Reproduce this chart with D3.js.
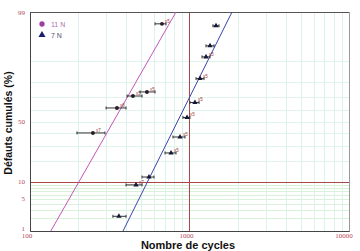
<!DOCTYPE html>
<html>
<head>
<meta charset="utf-8">
<script src="https://cdnjs.cloudflare.com/ajax/libs/d3/7.8.5/d3.min.js"></script>
<style>
  body { margin: 0; background: #fff; }
  svg { display: block; }
</style>
</head>
<body>
<div id="chart"></div>
<script>
// data: cycles (centre, low, high) and cumulated defects (%)
var cycles11 = [248, 351, 442, 541, 672]
var low11 = [197, 300, 406, 490, 608]
var high11 = [295, 400, 504, 608, 712]
var pct11 = [40.4, 61.3, 70.6, 73.5, 98.1]
var tags11 = ["x7", "x8", "x5", "x5", "x5"]

var cycles7 = [361, 462, 557, 766, 872, 965, 1082, 1164, 1269, 1345, 1466]
var low7 = [331, 400, 504, 702, 788, 910, 1007, 1099, 1198, 1269, 1403]
var high7 = [400, 504, 599, 823, 937, 1007, 1148, 1233, 1344, 1425, 1531]
var pct7 = [2.2, 8.9, 11.9, 25.2, 37.1, 53.4, 65.7, 81.9, 91.5, 94.6, 97.9]
var tags7 = ["", "x7", "", "x5", "x5", "x5", "x5", "x5", "x5", "", ""]

// fitted lines: cycles at 1 % and 99 %
var fit11 = [135, 823]
var fit7 = [383, 1847]
var fitPct = [1, 99]

var yTicks = [1, 5, 10, 50, 99]
var xTicks = [100, 1000, 10000]
var yGrid = [2, 3, 4, 5, 6, 7, 8, 9, 20, 30, 40, 50, 60, 70, 80, 90]
var xGrid = [200, 300, 400, 500, 600, 700, 800, 900, 2000, 3000, 4000, 5000, 6000, 7000, 8000, 9000]

var W = 360, H = 251
var m = {left: 30, top: 12, right: 11, bottom: 20}

// inverse normal cdf (Acklam)
function probit(p) {
  var a = [-39.6968302866538, 220.946098424521, -275.928510446969, 138.357751867269, -30.6647980661472, 2.50662827745924]
  var b = [-54.4760987982241, 161.585836858041, -155.698979859887, 66.8013118877197, -13.2806815528857]
  var c = [-0.00778489400243029, -0.322396458041136, -2.40075827716184, -2.54973253934373, 4.37466414146497, 2.93816398269878]
  var d = [0.00778469570904146, 0.32246712907004, 2.445134137143, 3.75440866190742]
  var q, r
  if (p < 0.02425) {
    q = Math.sqrt(-2 * Math.log(p))
    return (((((c[0]*q+c[1])*q+c[2])*q+c[3])*q+c[4])*q+c[5]) / ((((d[0]*q+d[1])*q+d[2])*q+d[3])*q+1)
  }
  if (p > 1 - 0.02425) {
    q = Math.sqrt(-2 * Math.log(1 - p))
    return -(((((c[0]*q+c[1])*q+c[2])*q+c[3])*q+c[4])*q+c[5]) / ((((d[0]*q+d[1])*q+d[2])*q+d[3])*q+1)
  }
  q = p - 0.5; r = q * q
  return (((((a[0]*r+a[1])*r+a[2])*r+a[3])*r+a[4])*r+a[5])*q / (((((b[0]*r+b[1])*r+b[2])*r+b[3])*r+b[4])*r+1)
}

var svg = d3.select("#chart").append("svg").attr("width", W).attr("height", H)

var x = d3.scaleLog().domain([100, 10000]).range([m.left, W - m.right])
var z = d3.scaleLinear().domain([probit(0.01), probit(0.99)]).range([H - m.bottom, m.top])
var y = function(p) { return z(probit(p / 100)) }

var plot = svg.append("g")

// grid
plot.selectAll(".hg").data(yGrid).enter().append("line")
  .attr("x1", m.left).attr("x2", W - m.right)
  .attr("y1", function(d) { return Math.round(y(d)) + 0.5 })
  .attr("y2", function(d) { return Math.round(y(d)) + 0.5 })
  .attr("stroke", function(d) { return d < 10 ? "#d9f1d9" : "#e0f4ea" })
plot.selectAll(".vg").data(xGrid).enter().append("line")
  .attr("y1", m.top).attr("y2", H - m.bottom)
  .attr("x1", function(d) { return Math.round(x(d)) + 0.5 })
  .attr("x2", function(d) { return Math.round(x(d)) + 0.5 })
  .attr("stroke", "#dbf2ee")

// red reference lines
plot.append("line").attr("x1", m.left).attr("x2", W - m.right)
  .attr("y1", Math.round(y(10)) + 0.5).attr("y2", Math.round(y(10)) + 0.5)
  .attr("stroke", "#a84848")
plot.append("line").attr("y1", m.top).attr("y2", H - m.bottom)
  .attr("x1", Math.round(x(1000)) + 0.5).attr("x2", Math.round(x(1000)) + 0.5)
  .attr("stroke", "#a84848")

// frame
svg.append("rect").attr("x", m.left + 0.5).attr("y", m.top + 0.5)
  .attr("width", W - m.left - m.right).attr("height", H - m.top - m.bottom)
  .attr("fill", "none").attr("stroke", "#999")
svg.append("path")
  .attr("d", "M" + (m.left + 0.5) + "," + (m.top + 0.5) + "V" + (H - m.bottom + 0.5) + "H" + (W - m.right + 0.5))
  .attr("fill", "none").attr("stroke", "#444")
svg.append("line").attr("x1", m.left).attr("x2", W - m.right)
  .attr("y1", m.top + 0.5).attr("y2", m.top + 0.5).attr("stroke", "#555")

// fitted lines
var clip = svg.append("clipPath").attr("id", "clip").append("rect")
  .attr("x", m.left).attr("y", m.top).attr("width", W - m.left - m.right).attr("height", H - m.top - m.bottom)
var line = d3.line().x(function(d) { return x(d[0]) }).y(function(d) { return y(d[1]) })
svg.append("path").datum(d3.zip(fit11, fitPct)).attr("d", line)
  .attr("stroke", "#c455b8").attr("fill", "none").attr("clip-path", "url(#clip)")
svg.append("path").datum(d3.zip(fit7, fitPct)).attr("d", line)
  .attr("stroke", "#3a44a8").attr("fill", "none").attr("clip-path", "url(#clip)")

// series with error bars
function drawSeries(cyc, lo, hi, pct, tags, shape, col) {
  var g = svg.append("g")
  var rows = cyc.map(function(c, i) { return {c: c, lo: lo[i], hi: hi[i], p: pct[i], t: tags[i]} })
  var e = g.selectAll("g").data(rows).enter().append("g")
  e.append("line")
    .attr("x1", function(d) { return x(d.lo) }).attr("x2", function(d) { return x(d.hi) })
    .attr("y1", function(d) { return y(d.p) }).attr("y2", function(d) { return y(d.p) })
    .attr("stroke", "#333")
  e.append("line")
    .attr("x1", function(d) { return x(d.lo) }).attr("x2", function(d) { return x(d.lo) })
    .attr("y1", function(d) { return y(d.p) - 1.5 }).attr("y2", function(d) { return y(d.p) + 1.5 })
    .attr("stroke", "#333")
  e.append("line")
    .attr("x1", function(d) { return x(d.hi) }).attr("x2", function(d) { return x(d.hi) })
    .attr("y1", function(d) { return y(d.p) - 1.5 }).attr("y2", function(d) { return y(d.p) + 1.5 })
    .attr("stroke", "#333")
  e.append("path")
    .attr("d", d3.symbol().type(shape).size(12))
    .attr("transform", function(d) { return "translate(" + x(d.c) + "," + y(d.p) + ")" })
    .attr("fill", col)
  e.append("text")
    .attr("x", function(d) { return x(d.c) + 3 }).attr("y", function(d) { return y(d.p) - 1 })
    .attr("font-family", "Liberation Sans, Arial, sans-serif").attr("font-size", 4.5)
    .attr("fill", "#9a3a3a")
    .text(function(d) { return d.t })
}
drawSeries(cycles11, low11, high11, pct11, tags11, d3.symbolCircle, "#2a1a2a")
drawSeries(cycles7, low7, high7, pct7, tags7, d3.symbolTriangle, "#141838")

// tick labels
svg.selectAll(".yt").data(yTicks).enter().append("text")
  .attr("x", 25).attr("y", function(d) { return d === 1 ? y(d) : y(d) + 2.5 })
  .attr("text-anchor", "end")
  .attr("font-family", "Liberation Serif, serif").attr("font-size", 7)
  .attr("fill", "#b5485a")
  .text(function(d) { return d })
svg.selectAll(".xt").data(xTicks).enter().append("text")
  .attr("x", function(d) { return d === 10000 ? x(d) - 5 : x(d) - 3 })
  .attr("y", H - m.bottom + 7)
  .attr("text-anchor", "middle")
  .attr("font-family", "Liberation Serif, serif").attr("font-size", 7)
  .attr("fill", "#b5485a")
  .text(function(d) { return d })

// axis titles
svg.append("text")
  .attr("x", 188).attr("y", 248.5)
  .attr("text-anchor", "middle")
  .attr("font-family", "Liberation Sans, Arial, sans-serif").attr("font-size", 11).attr("font-weight", "bold")
  .attr("fill", "#111")
  .text("Nombre de cycles")
svg.append("text")
  .attr("transform", "translate(12,123) rotate(-90)")
  .attr("text-anchor", "middle")
  .attr("font-family", "Liberation Sans, Arial, sans-serif").attr("font-size", 10.5).attr("font-weight", "bold")
  .attr("fill", "#111")
  .text("Défauts cumulés (%)")

// legend
var legend = [
  {name: "11 N", shape: d3.symbolCircle, col: "#a23ca2", txt: "#b070b0"},
  {name: "7 N", shape: d3.symbolTriangle, col: "#1c1c70", txt: "#505070"}
]
var lg = svg.selectAll(".lg").data(legend).enter().append("g")
  .attr("transform", function(d, i) { return "translate(42," + (24 + i * 11) + ")" })
lg.append("path").attr("d", function(d) { return d3.symbol().type(d.shape).size(22)() })
  .attr("fill", function(d) { return d.col })
lg.append("text").attr("x", 9).attr("y", 2.5)
  .attr("font-family", "Liberation Sans, Arial, sans-serif").attr("font-size", 7)
  .attr("fill", function(d) { return d.txt })
  .text(function(d) { return d.name })
</script>
</body>
</html>
